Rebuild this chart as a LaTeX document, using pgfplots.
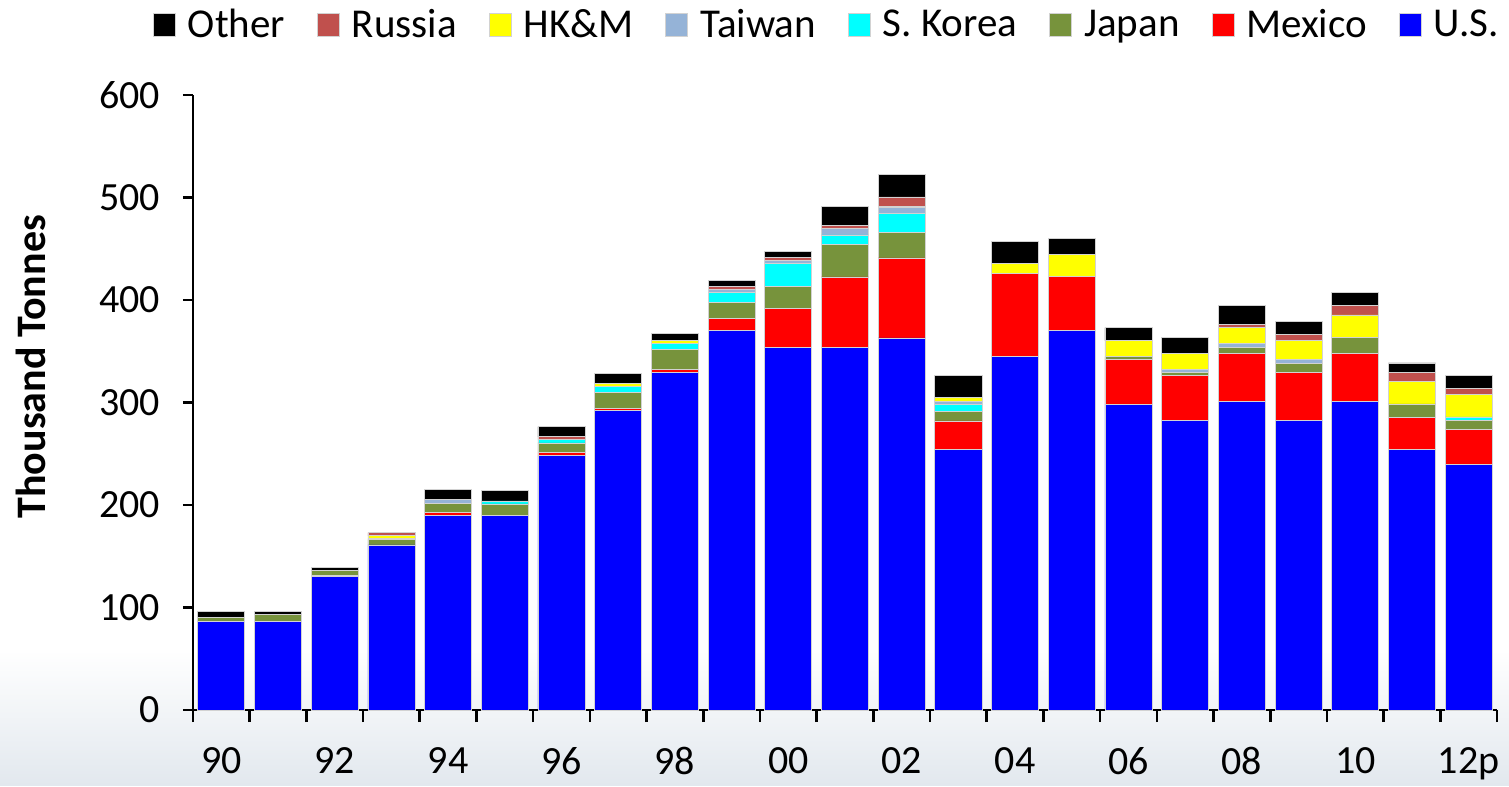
\documentclass[border=0pt]{standalone}
\usepackage{pgfplots}
\pgfplotsset{compat=1.18}
\usepackage{pgfplotstable}
\usepackage{fontspec}
\setmainfont{Carlito}
\usetikzlibrary{backgrounds}
\definecolor{cUS}{RGB}{0,0,255}
\definecolor{cMX}{RGB}{255,0,0}
\definecolor{cJP}{RGB}{119,147,60}
\definecolor{cKR}{RGB}{0,255,255}
\definecolor{cTW}{RGB}{149,179,215}
\definecolor{cHK}{RGB}{255,255,0}
\definecolor{cRU}{RGB}{192,80,77}
\definecolor{cOT}{RGB}{0,0,0}
\definecolor{bgsky}{RGB}{226,232,238}
\pgfplotstableread{
x US Mex Jap Kor Tai HK Rus Oth
0 86 0 4 0 0 0 0 6
1 86 0 7 0.5 0 0 0 3
2 130 1 5 0.5 0 0 0 3
3 161 0 5.5 0 0.5 3 3 0
4 189.5 3 9 0 3.5 0 0 10
5 189.5 0 11.5 3 0 0 0 10.5
6 248 3 9.5 3.5 0 0 2.5 10
7 292 2 15.5 6.5 0 2.5 0 10
8 329 3.5 19 6 0 3 0 6.5
9 370 12 15.5 9.5 3 0 3 6
10 354 37.5 22 22 3 0 3 5.5
11 354 68.5 31.5 9.5 6 0 3 18.5
12 363 78 25 18.5 6 1 9 22
13 254.5 27.5 9.5 6.5 3.3 3.2 0 22.3
14 345 81 0 0 0 9.5 0 22
15 370 53 0 0 0 21.5 0 15.5
16 298.5 43.5 2.7 0 0 15.6 0 12.7
17 282.6 43.6 3 0 3.3 15.6 0 15.6
18 301 47 6 0 3.3 15.6 3.3 18.5
19 282.6 46.5 9.4 0 3.3 18.5 6.5 12.2
20 301 47 15.6 0 0 21.8 9.4 12.7
21 254.6 31 13 0 0 21.5 9.5 9
22 239.3 34.2 8.8 3.6 0 21.7 6.2 12.7
}\data
\begin{document}
\begin{tikzpicture}
\begin{axis}[
  name=ax,
  scale only axis,
  width=652pt, height=307.5pt,
  ybar stacked, bar width=0.83,
  xmin=-0.5, xmax=22.5,
  ymin=0, ymax=600,
  ytick={0,100,...,600},
  xtick={0,2,...,22},
  xticklabels={90,92,94,96,98,00,02,04,06,08,10,12p},
  minor xtick={-0.5,0.5,...,22.5},
  axis x line*=bottom, axis y line*=left,
  axis line style={line width=1.3pt, -},
  tick style={line width=1.3pt, black},
  major tick length=5pt,
  minor tick length=6pt,
  major x tick style={draw=none},
  tick align=outside,
  /pgf/number format/assume math mode=true,
  ticklabel style={font=\fontsize{20}{24}\selectfont},
  xticklabel style={yshift=-10pt},
  yticklabel style={xshift=-8pt},
  ylabel={\bfseries Thousand Tonnes},
  ylabel style={font=\fontsize{21}{25}\selectfont, at={(axis description cs:-0.124,0.558)}, rotate=0, anchor=center},
  every axis plot/.append style={draw=gray!35, line width=0.4pt},
  legend style={draw=none, fill=none, font=\fontsize{20.5}{24}\selectfont,
    at={(0.487,1)}, anchor=north, yshift=47pt,
    /tikz/every odd column/.append style={column sep=4pt},
    /tikz/every even column/.append style={column sep=14pt}},
  legend columns=8,
  reverse legend,
  legend image code/.code={\fill[#1] (0pt,-5.5pt) rectangle (11pt,6pt);},
]
\addplot[fill=cUS] table[x=x,y=US]{\data};
\addlegendentry{U.S.}
\addplot[fill=cMX] table[x=x,y=Mex]{\data};
\addlegendentry{Mexico}
\addplot[fill=cJP] table[x=x,y=Jap]{\data};
\addlegendentry{Japan}
\addplot[fill=cKR] table[x=x,y=Kor]{\data};
\addlegendentry{S. Korea}
\addplot[fill=cTW] table[x=x,y=Tai]{\data};
\addlegendentry{Taiwan}
\addplot[fill=cHK] table[x=x,y=HK]{\data};
\addlegendentry{HK\&M}
\addplot[fill=cRU] table[x=x,y=Rus]{\data};
\addlegendentry{Russia}
\addplot[fill=cOT] table[x=x,y=Oth]{\data};
\addlegendentry{Other}
\end{axis}
\begin{scope}[on background layer]
\fill[white] ([shift={(-96.5pt,-37.5pt)}]ax.south west) rectangle ([shift={(658pt,355pt)}]ax.south west);
\shade[top color=white, bottom color=bgsky] ([shift={(-96.5pt,-37.5pt)}]ax.south west) rectangle ([shift={(658pt,30pt)}]ax.south west);
\end{scope}
\end{tikzpicture}
\end{document}
